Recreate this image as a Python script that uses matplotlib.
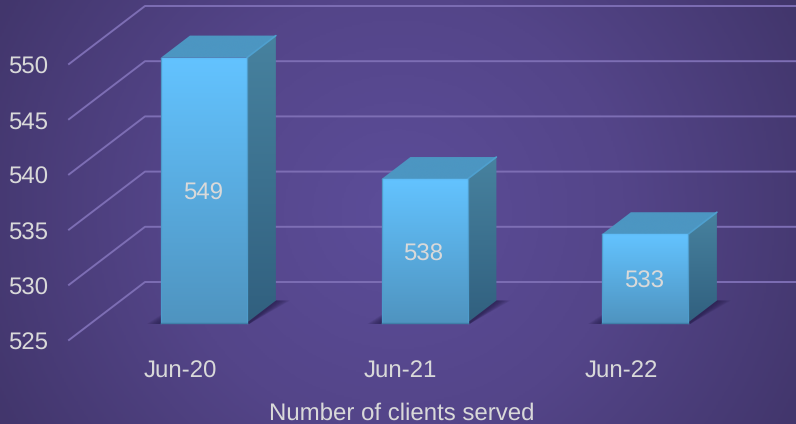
import numpy as np
import matplotlib
matplotlib.use("Agg")
import matplotlib.pyplot as plt
from matplotlib.colors import LinearSegmentedColormap
from matplotlib.patches import Polygon

categories = ["Jun-20", "Jun-21", "Jun-22"]
values = [549, 538, 533]
y_ticks = [525, 530, 535, 540, 545, 550]
x_title = "Number of clients served"

W, H = 796, 424
PX_PER_CAT = 220.5
PX_PER_VAL = 11.04
X0_PX = 181.2      # category 0 on the front plane
Y0_PX = 340.0      # value 525 on the front plane
BASE = 525
DEPTH_DX = 76.0 / PX_PER_CAT
DEPTH_DY = 58.0 / PX_PER_VAL
BAR_W = 86.0 / PX_PER_CAT
D_FRONT, D_BACK = 0.30, 0.68
FS = 17

TEXT = "#d9d9d9"
GRID = "#7d6eb4"
plt.rcParams["font.family"] = ["Liberation Sans", "DejaVu Sans"]
plt.rcParams["text.hinting"] = "no_hinting"
plt.rcParams["text.hinting_factor"] = 1

fig = plt.figure(figsize=(W / 100, H / 100), dpi=100)
ax = fig.add_axes([0, 0, 1, 1])
xlim = (-X0_PX / PX_PER_CAT, (W - X0_PX) / PX_PER_CAT)
ylim = (BASE - (H - Y0_PX) / PX_PER_VAL, BASE + Y0_PX / PX_PER_VAL)
ax.set_xlim(xlim)
ax.set_ylim(ylim)
ax.axis("off")

def proj(x, v, d):
    return (x + d * DEPTH_DX, v + d * DEPTH_DY)

# background
u = np.linspace(-1, 1, 400)
t = np.linspace(-1, 1, 220)
U, T = np.meshgrid(u, t)
R = np.clip(np.sqrt(U ** 2 + (T * 0.55) ** 2) / 1.14, 0, 1)
bg = LinearSegmentedColormap.from_list("bg", ["#5c4d99", "#544589", "#42366c"])
ax.imshow(R, extent=[*xlim, *ylim], cmap=bg, vmin=0, vmax=1, aspect="auto", zorder=0)

# gridlines
for v in y_ticks:
    p0 = proj(xlim[0] + 69 / PX_PER_CAT, v, 0)
    p1 = proj(xlim[0] + 69 / PX_PER_CAT, v, 1)
    ax.plot([p0[0], p1[0], xlim[1]], [p0[1], p1[1], p1[1]], color=GRID, lw=1.4,
            solid_joinstyle="round", zorder=1)
    ax.text(xlim[0] + 28 / PX_PER_CAT, v - 1 / PX_PER_VAL, str(v), color=TEXT, fontsize=FS,
            ha="center", va="center_baseline", zorder=5)

def gradient_face(pts, top_col, bot_col, zorder):
    pts = np.array(pts)
    cmap = LinearSegmentedColormap.from_list("f", [bot_col, top_col])
    poly = Polygon(pts, closed=True, fc="none", ec="none", zorder=zorder)
    ax.add_patch(poly)
    grad = np.linspace(1, 0, 128).reshape(-1, 1)
    im = ax.imshow(grad, extent=[pts[:, 0].min(), pts[:, 0].max(), pts[:, 1].min(), pts[:, 1].max()],
                   cmap=cmap, vmin=0, vmax=1, aspect="auto", zorder=zorder)
    im.set_clip_path(poly)
    return im

for i, (cat, val) in enumerate(zip(categories, values)):
    xl, xr = i - BAR_W / 2, i + BAR_W / 2
    fbl = proj(xl, BASE, D_FRONT); fbr = proj(xr, BASE, D_FRONT)
    ftl = proj(xl, val, D_FRONT); ftr = proj(xr, val, D_FRONT)
    bbr = proj(xr, BASE, D_BACK)
    btl = proj(xl, val, D_BACK); btr = proj(xr, val, D_BACK)

    # soft shadow on the floor
    low = fbl[1] - 0.12
    for e in np.linspace(14, 1, 9):
        ex = e / PX_PER_CAT
        sh = [(fbl[0] - ex, low), (fbr[0] + 2 / PX_PER_CAT, low),
              (bbr[0] + ex, bbr[1]), (bbr[0] - 8 / PX_PER_CAT, bbr[1]),
              (fbl[0], fbl[1] + e * 0.55 / PX_PER_VAL)]
        ax.add_patch(Polygon(sh, closed=True, fc="#2a2150", ec="none", alpha=0.15, zorder=2))

    gradient_face([fbr, bbr, btr, ftr], "#47829f", "#31607f", 3)
    gradient_face([ftl, ftr, btr, btl], "#4c96c2", "#4c96c2", 3)
    ax.plot([ftr[0], btr[0]], [ftr[1], btr[1]], color="#4fa0cf", lw=1.2, zorder=3.2,
            solid_capstyle="round")
    gradient_face([fbl, fbr, ftr, ftl], "#63c3ff", "#4f94c0", 4)
    ax.plot([ftl[0], ftr[0]], [ftl[1], ftr[1]], color="#5fbcf7", lw=1.0, zorder=4.1,
            solid_capstyle="round")
    ax.plot([ftl[0], fbl[0]], [ftl[1], fbl[1]], color="#4f9ccb", lw=0.9, zorder=4.1)
    ax.plot([ftr[0], fbr[0]], [ftr[1], fbr[1]], color="#4f9ccb", lw=0.9, zorder=4.1)
    ax.plot([fbl[0], fbr[0]], [fbl[1], fbr[1]], color="#3f7fa8", lw=1.0, zorder=4.2)

    ax.text(i + D_FRONT * DEPTH_DX - 1 / PX_PER_CAT,
            (BASE + val) / 2 + D_FRONT * DEPTH_DY - 1 / PX_PER_VAL,
            str(val), color=TEXT, fontsize=FS, ha="center", va="center_baseline", zorder=6)
    ax.text(i - 1 / PX_PER_CAT, ylim[0] + 55 / PX_PER_VAL, cat, color=TEXT, fontsize=FS,
            ha="center", va="center_baseline", zorder=6)

ax.text(1, ylim[0] + 13 / PX_PER_VAL, x_title, color=TEXT, fontsize=FS,
        ha="center", va="center_baseline", zorder=6)

fig.savefig("out.png", dpi=100)
